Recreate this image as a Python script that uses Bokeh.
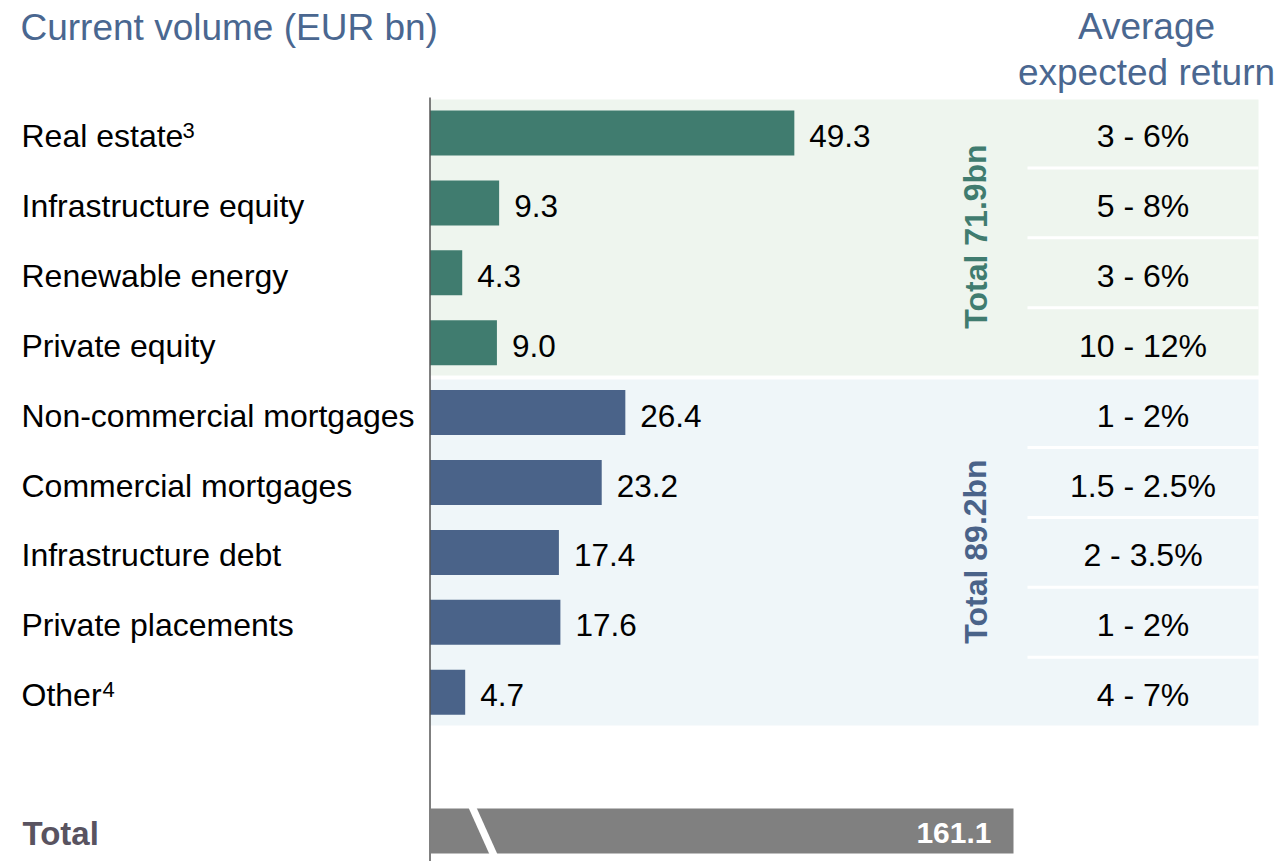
from bokeh.plotting import figure
from bokeh.models import Range1d, ColumnDataSource
from bokeh.core.properties import value
from bokeh.embed import file_html
from bokeh.resources import INLINE

# ---------------- data ----------------
categories = ["Real estate", "Infrastructure equity", "Renewable energy", "Private equity",
              "Non-commercial mortgages", "Commercial mortgages", "Infrastructure debt",
              "Private placements", "Other"]
footnotes = ["3", "", "", "", "", "", "", "", "4"]
volumes = [49.3, 9.3, 4.3, 9.0, 26.4, 23.2, 17.4, 17.6, 4.7]
returns = ["3 - 6%", "5 - 8%", "3 - 6%", "10 - 12%", "1 - 2%", "1.5 - 2.5%",
           "2 - 3.5%", "1 - 2%", "4 - 7%"]
groups = ["alt", "alt", "alt", "alt", "fi", "fi", "fi", "fi", "fi"]
group_labels = ["Total 71.9bn", "Total 89.2bn"]
total_label = "Total"
total_value = 161.1
title_left = "Current volume (EUR bn)"
title_right = ["Average", "expected return"]

# ---------------- styles ----------------
FONT = value("Liberation Sans")
GREEN = "#407C6F"
BLUE = "#4A6389"
GREEN_BG = "#EEF5EE"
BLUE_BG = "#EFF6F9"
TITLE_C = "#4A6790"
TOTAL_C = "#595360"
GREY = "#808080"

K = 7.38          # px per EUR bn
ROW = 69.9        # px per row
SH = -10.5        # baseline correction, px

def X(sx):
    return (sx - 430) / K

def Y(sy):
    return (sy - 132.5) / ROW

W, H = 1281, 861
p = figure(width=W, height=H, x_range=Range1d(X(0), X(W)),
           y_range=Range1d(Y(H), Y(0)), output_backend="svg",
           toolbar_location=None, min_border=0, x_axis_type=None, y_axis_type=None)
p.grid.visible = False
p.outline_line_color = None
p.background_fill_color = "white"
p.border_fill_color = "white"

rows = list(range(len(categories)))
n_alt = groups.count("alt")

# group background bands
p.quad(left=[X(430), X(430)], right=[X(1258), X(1258)],
       top=[Y(99), Y(379)], bottom=[Y(375), Y(725)],
       fill_color=[GREEN_BG, BLUE_BG], line_color=None)

# white separators in return column
seps = [r + 0.5 for r in rows[:-1] if r != n_alt - 1]
p.segment(x0=[X(1027)] * len(seps), x1=[X(1258)] * len(seps), y0=seps, y1=seps,
          line_color="white", line_width=3)

# bars
colors = [GREEN if g == "alt" else BLUE for g in groups]
src = ColumnDataSource(dict(y=rows, right=volumes, color=colors,
                            lab=[f"{v:.1f}" for v in volumes],
                            lx=[v + 15 / K for v in volumes],
                            ty=[r + (13.5 + SH) / ROW for r in rows],
                            cat=categories, ret=returns))
p.hbar(y="y", left=0, right="right", height=45 / ROW, fill_color="color",
       line_color=None, source=src)

# value labels
p.text(x="lx", y="ty", text="lab", source=src, text_font=FONT, text_font_size="31.5px",
       text_color="black", text_align="left", text_baseline="alphabetic")

# category labels
p.text(x=X(21), y="ty", text="cat", source=src, text_font=FONT,
       text_font_size="32px", text_color="black", text_align="left",
       text_baseline="alphabetic")

# footnote superscripts
sup_x = {0: 182, 8: 102}
fx, fy, ft = [], [], []
for i, f in enumerate(footnotes):
    if f:
        fx.append(X(sup_x[i]))
        fy.append(i + (8.0 + SH) / ROW)
        ft.append(f)
p.text(x=fx, y=fy, text=ft, text_font=FONT, text_font_size="22px", text_color="black",
       text_align="left", text_baseline="alphabetic")

# returns column
p.text(x=X(1142.5), y="ty", text="ret", source=src, text_font=FONT,
       text_font_size="32px", text_color="black", text_align="center",
       text_baseline="alphabetic")

# group totals (vertical)
p.text(x=[X(975), X(975)], y=[Y(236), Y(551)], text=group_labels, angle=1.5708,
       text_font=FONT, text_font_size="32px", text_font_style="bold",
       text_color=[GREEN, BLUE], text_align="center", text_baseline="middle")

# axis line
p.segment(x0=[X(429.5)], x1=[X(429.5)], y0=[Y(97)], y1=[Y(870)],
          line_color="black", line_width=1)

# total row (broken bar)
p.quad(left=[0], right=[X(1013)], top=[Y(808)], bottom=[Y(853)],
       fill_color=GREY, line_color=None)
p.patch(x=[X(467.5), X(475.5), X(497.5), X(489.5)],
        y=[Y(806), Y(806), Y(855), Y(855)], fill_color="white", line_color=None)
p.text(x=[X(991)], y=[Y(843 + SH)], text=[f"{total_value:.1f}"], text_font=FONT,
       text_font_size="30px", text_font_style="bold", text_color="white",
       text_align="right", text_baseline="alphabetic")
p.text(x=[X(22)], y=[Y(843 + SH)], text=[total_label], text_font=FONT,
       text_font_size="33px", text_font_style="bold", text_color=TOTAL_C,
       text_align="left", text_baseline="alphabetic")

# titles
p.text(x=[X(20)], y=[Y(37 + SH)], text=[title_left], text_font=FONT,
       text_font_size="37px", text_color=TITLE_C, text_align="left",
       text_baseline="alphabetic")
p.text(x=[X(1146), X(1146)], y=[Y(36 + SH), Y(82 + SH)], text=title_right, text_font=FONT,
       text_font_size="37px", text_color=TITLE_C, text_align="center",
       text_baseline="alphabetic")

open("out.html", "w").write(file_html(p, INLINE))
